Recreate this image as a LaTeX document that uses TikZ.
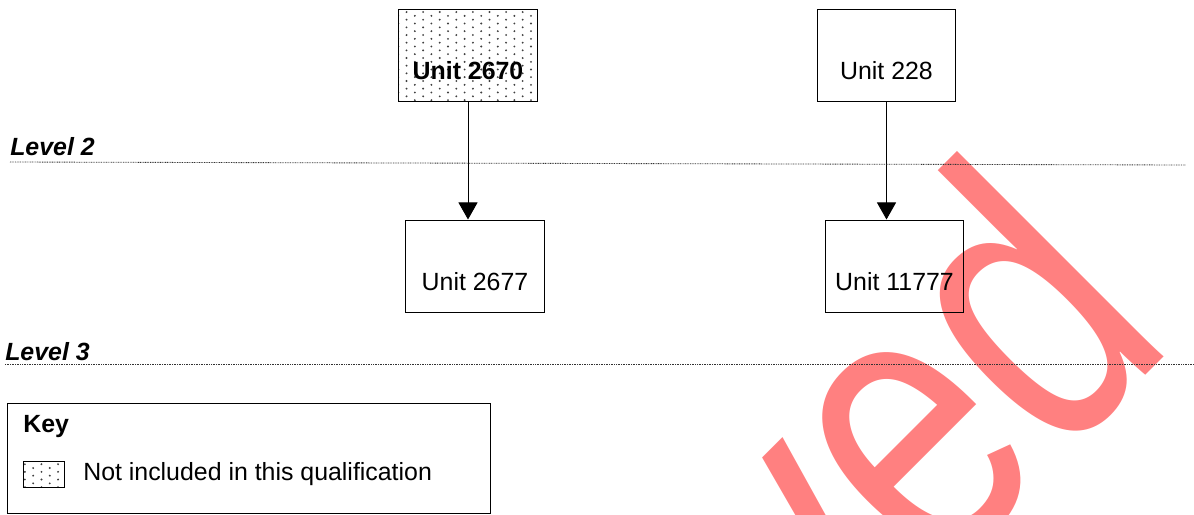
\documentclass[tikz,border=0pt]{standalone}
\usepackage{fontspec}
\setmainfont{Liberation Sans}
\usetikzlibrary{arrows.meta,patterns}

% staggered dots for units outside the qualification
\pgfdeclarepatternformonly{unitdots}{\pgfqpoint{-1pt}{-1pt}}{\pgfqpoint{12.8pt}{6.5pt}}{\pgfqpoint{11.8pt}{5.45pt}}{%
	\pgfpathcircle{\pgfqpoint{0pt}{0pt}}{0.75pt}
	\pgfpathcircle{\pgfqpoint{5.9pt}{2.72pt}}{0.75pt}
	\pgfusepath{fill}}

\definecolor{stamp}{RGB}{255,128,128}

\begin{document}
\begin{tikzpicture}[x=0.025cm,y=-0.025cm]
	\tikzstyle{every node}=[inner sep=0pt, font=\fontsize{17.7}{21}\selectfont]
	\tikzstyle{unit}=[draw, rectangle, line width=0.7pt, minimum width=3.45cm, text height=1.75cm, text depth=0.55cm]
	\tikzstyle{level}=[line width=0.6pt, dash pattern=on 0.6pt off 0.6pt, black!80]
	\tikzstyle{link}=[line width=0.7pt, -{Triangle[width=0.48cm,length=0.43cm]}]
	\path[use as bounding box, clip] (0,0) rectangle (1194,514);
	% stamp across the page
	\draw (1178,343) node (wm) [rotate=45, xscale=0.77, anchor=base east, text=stamp, font=\fontsize{286}{286}\selectfont] {ved};
	% units
	\draw (468,55.5) node (u2670) [unit, pattern=unitdots, pattern color=black!75] {\bfseries Unit 2670};
	\draw (886.5,55.5) node (u228) [unit] {Unit 228};
	\draw (475,266) node (u2677) [unit] {Unit 2677};
	\draw (894.5,266) node (u11777) [unit] {Unit 11777};
	\draw[link] (u2670) -- (u2670 |- u2677.north);
	\draw[link] (u228) -- (u228 |- u11777.north);
	% levels
	\draw (10,155) node (lv2) [anchor=base west] {\bfseries\itshape Level 2};
	\draw (5,360) node (lv3) [anchor=base west] {\bfseries\itshape Level 3};
	\coordinate (l2a) at (10,162);
	\coordinate (l2b) at (1186,165);
	\coordinate (l3a) at (5,364);
	\coordinate (l3b) at (1194,364);
	\draw[level] (l2a) -- (l2b);
	\draw[level] (l3a) -- (l3b);
	% key
	\draw (249,458) node (key) [draw, line width=0.7pt, minimum width=12.05cm, minimum height=2.75cm] {};
	\draw (23,432) node (keyt) [anchor=base west] {\bfseries Key};
	\draw (43.5,474) node (swatch) [draw, line width=0.6pt, minimum width=1.025cm, minimum height=0.65cm, pattern=unitdots, pattern color=black!75] {};
	\draw (83,480) node (swatcht) [anchor=base west] {Not included in this qualification};
\end{tikzpicture}
\end{document}
